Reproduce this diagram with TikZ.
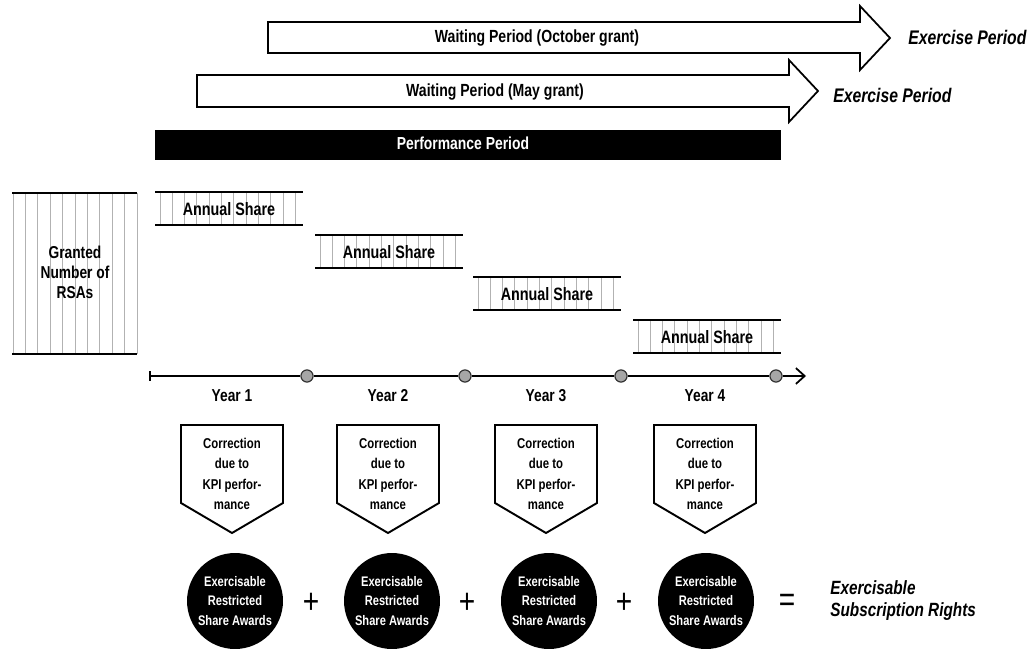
\documentclass[tikz,border=0pt]{standalone}
\usepackage{fontspec}
\setmainfont{Liberation Sans}[FakeStretch=0.8]
\usetikzlibrary{arrows.meta}

\tikzset{
  txt/.style={font=\bfseries\fontsize{10}{12}\selectfont, inner sep=0pt},
  exper/.style={font=\bfseries\itshape\fontsize{11.2}{12}\selectfont, inner sep=0pt, anchor=west},
  edge/.style={line width=1.7pt},
  stripe/.style={gray!60, line width=0.5pt},
  corr/.style={font=\bfseries\fontsize{8.1}{11.6}\selectfont, align=center, inner sep=0pt},
  award/.style={circle, fill=black, text=white, minimum size=1.92cm, inner sep=0pt,
    font=\bfseries\fontsize{7.9}{11.3}\selectfont, align=center},
  yeardot/.style={circle, fill=gray!70, draw=gray!40!black, line width=0.6pt, minimum size=0.24cm, inner sep=0pt},
  sign/.style={font=\fontsize{20}{20}\selectfont, inner sep=0pt}
}

\begin{document}
\begin{tikzpicture}[x=0.02cm, y=-0.02cm]
\useasboundingbox (0,0) rectangle (1029,649);

% waiting periods
\draw[line width=1pt] (268,22)--(860,22)--(860,6)--(890,38)--(860,70)--(860,53)--(268,53)--cycle;
\node[txt] (octgrant) at (537,38) {Waiting Period (October grant)};
\node[exper] (exoct) at (908,37) {Exercise Period};
\draw[line width=1pt] (197,75)--(789,75)--(789,60)--(818,91)--(789,122)--(789,107)--(197,107)--cycle;
\node[txt] (maygrant) at (495,92) {Waiting Period (May grant)};
\node[exper] (exmay) at (833,95) {Exercise Period};

% performance period
\fill (155,130) rectangle (781,160);
\node[txt, text=white, font=\bfseries\fontsize{9.9}{12}\selectfont] (perf) at (463,143) {Performance Period};

% granted number
\foreach \i in {0,...,10}
  \draw[stripe] (13+\i*12.4,193) -- (13+\i*12.4,354);
\draw[edge] (12,193) -- (137,193);
\draw[edge] (12,354) -- (137,354);
\node[txt, align=center, font=\bfseries\fontsize{9.8}{11.4}\selectfont] (granted) at (75,272) {Granted\\Number of\\RSAs};

% annual shares
\foreach \n/\x/\y in {1/155/192, 2/315/235, 3/473/277, 4/633/320} {
  \foreach \i in {0,...,11}
    \draw[stripe] (\x+5+\i*12.3,\y) -- (\x+5+\i*12.3,\y+33);
  \draw[edge] (\x,\y) -- (\x+148,\y);
  \draw[edge] (\x,\y+33) -- (\x+148,\y+33);
  \node[txt, font=\bfseries\fontsize{10.2}{12}\selectfont] (share\n) at (\x+74,\y+17) {Annual Share};
}

% time line
\coordinate (tstart) at (150,376);
\coordinate (tend) at (806,376);
\foreach \n/\x in {1/307, 2/465, 3/621, 4/776}
  \node[yeardot] (dot\n) at (\x,376) {};
\draw[line width=1pt, -{Straight Barb[length=5pt, width=9pt]}] (tstart) -- (dot1) -- (dot2) -- (dot3) -- (dot4) -- (tend);
\draw[line width=1pt] (150,371) -- (150,381);
\foreach \n in {1,...,4}
  \node[yeardot] at (dot\n) {};

% years, corrections, awards
\foreach \n/\x/\c in {1/232/235, 2/388/392, 3/546/549, 4/705/706} {
  \node[txt, font=\bfseries\fontsize{9.8}{12}\selectfont] (year\n) at (\x,396) {Year \n};
  \draw[line width=1.1pt] (\x-51,425) -- (\x+51,425) -- (\x+51,503) -- (\x,533) -- (\x-51,503) -- cycle;
  \node[corr] (corr\n) at (\x,474) {Correction\\due to\\KPI perfor-\\mance};
  \node[award] (award\n) at (\c,601) {Exercisable\\Restricted\\Share Awards};
}
\node[sign] (plus1) at (311,603) {+};
\node[sign] (plus2) at (467,603) {+};
\node[sign] (plus3) at (624,603) {+};
\node[sign] (equal) at (787,603) {=};
\node[exper, align=left, font=\bfseries\itshape\fontsize{10.9}{12.5}\selectfont] (rights) at (830,601) {Exercisable\\Subscription Rights};
\end{tikzpicture}
\end{document}
